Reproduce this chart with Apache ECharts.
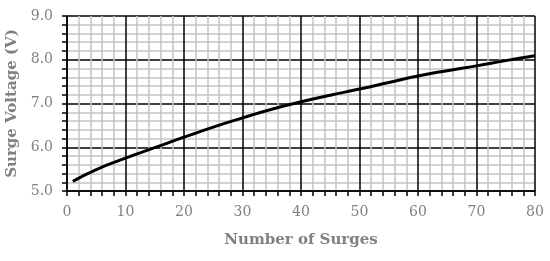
<!DOCTYPE html>
<html>
<head>
<meta charset="utf-8">
<script src="https://cdn.jsdelivr.net/npm/echarts@6/dist/echarts.min.js"></script>
<style>
  html, body { margin: 0; padding: 0; background: #fff; }
  #chart { width: 550px; height: 261px; }
</style>
</head>
<body>
<div id="chart"></div>
<script>
// surge count vs voltage
var surges = [1, 5, 10, 15, 20, 25, 30, 35, 40, 45, 50, 55, 60, 65, 70, 75, 80];
var voltage = [5.22, 5.49, 5.75, 5.99, 6.23, 6.46, 6.67, 6.87, 7.04, 7.19, 7.33, 7.48, 7.63, 7.75, 7.86, 7.98, 8.09];

var xTicks = { min: 0, max: 80, step: 10 };
var yTicks = { min: 5, max: 9, step: 1 };

var textGray = "#808080";
var font = "DejaVu Serif";

var points = surges.map(function (s, i) {
  return [s, voltage[i]];
});

var mychart = echarts.init(document.getElementById("chart"));
var option = {
  animation: false,
  grid: { left: 67, right: 15, top: 16, bottom: 70, outerBoundsMode: "none" },
  xAxis: {
    type: "value",
    min: xTicks.min,
    max: xTicks.max,
    interval: xTicks.step,
    name: "Number of Surges",
    nameLocation: "middle",
    nameGap: 42,
    nameTextStyle: { color: textGray, fontFamily: font, fontWeight: "bold", fontSize: 15 },
    axisLine: { show: true, lineStyle: { color: "#000", width: 1.5 } },
    axisTick: { show: true, inside: false, length: 5, lineStyle: { color: "#000", width: 1.5 } },
    minorTick: { show: true, splitNumber: 5, length: 5, lineStyle: { color: "#000", width: 1.5 } },
    axisLabel: { color: textGray, fontFamily: font, fontSize: 14, margin: 14 },
    splitLine: { show: true, lineStyle: { color: "#000", width: 1.5 } },
    minorSplitLine: { show: true, lineStyle: { color: "#c4c4c4", width: 1.5 } },
  },
  yAxis: {
    type: "value",
    min: yTicks.min,
    max: yTicks.max,
    interval: yTicks.step,
    name: "Surge Voltage (V)",
    nameLocation: "middle",
    nameGap: 43,
    nameTextStyle: { color: textGray, fontFamily: font, fontWeight: "bold", fontSize: 15 },
    axisLine: { show: true, lineStyle: { color: "#000", width: 1.5 } },
    axisTick: { show: true, inside: false, length: 5, lineStyle: { color: "#000", width: 1.5 } },
    minorTick: { show: true, splitNumber: 5, length: 5, lineStyle: { color: "#000", width: 1.5 } },
    axisLabel: {
      color: textGray,
      fontFamily: font,
      fontSize: 14,
      margin: 14,
      formatter: function (v) {
        return v.toFixed(1);
      },
    },
    splitLine: { show: true, lineStyle: { color: "#000", width: 1.5 } },
    minorSplitLine: { show: true, lineStyle: { color: "#c4c4c4", width: 1.5 } },
  },
  series: [
    {
      type: "line",
      data: points,
      smooth: true,
      symbol: "none",
      lineStyle: { color: "#000", width: 3 },
      z: 5,
    },
  ],
};
mychart.setOption(option, true);
</script>
</body>
</html>
